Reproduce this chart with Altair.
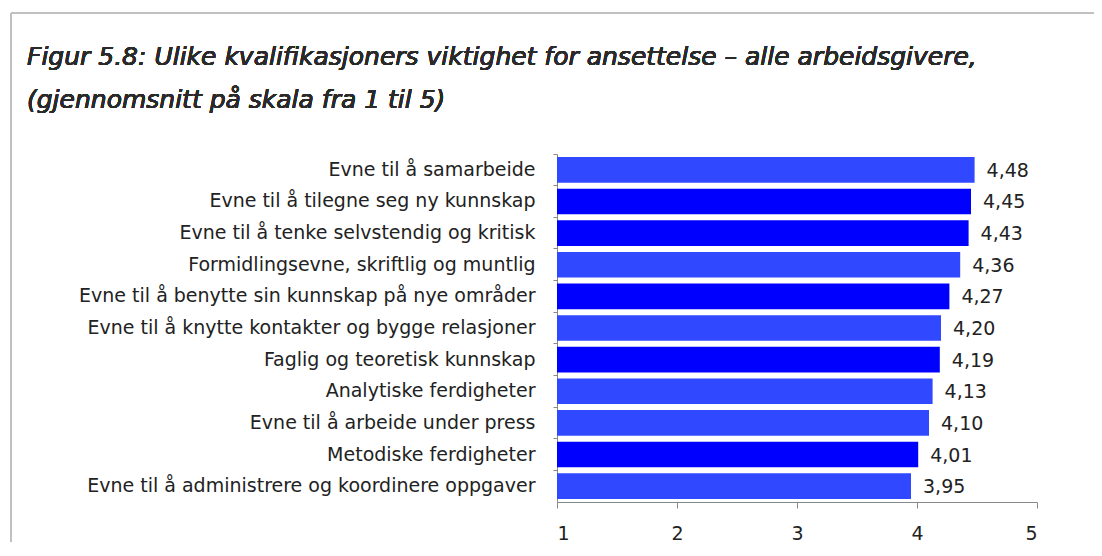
import altair as alt
import pandas as pd

categories = [
    "Evne til å samarbeide",
    "Evne til å tilegne seg ny kunnskap",
    "Evne til å tenke selvstendig og kritisk",
    "Formidlingsevne, skriftlig og muntlig",
    "Evne til å benytte sin kunnskap på nye områder",
    "Evne til å knytte kontakter og bygge relasjoner",
    "Faglig og teoretisk kunnskap",
    "Analytiske ferdigheter",
    "Evne til å arbeide under press",
    "Metodiske ferdigheter",
    "Evne til å administrere og koordinere oppgaver",
]
values = [4.48, 4.45, 4.43, 4.36, 4.27, 4.20, 4.19, 4.13, 4.10, 4.01, 3.95]
shades = ["lys", "mørk", "mørk", "lys", "mørk", "lys", "mørk", "lys", "lys", "mørk", "lys"]
x_ticks = [1, 2, 3, 4, 5]

title_line1 = "Figur 5.8: Ulike kvalifikasjoners viktighet for ansettelse – alle arbeidsgivere,"
title_line2 = "(gjennomsnitt på skala fra 1 til 5)"

df = pd.DataFrame({"kategori": categories, "verdi": values, "farge": shades})

FONT = "DejaVu Sans"
TXT = "#222222"
FS = 19

y_enc = alt.Y(
    "kategori:N",
    sort=None,
    title=None,
    scale=alt.Scale(paddingInner=0, paddingOuter=0),
    axis=alt.Axis(
        bandPosition=0,
        tickSize=4,
        labelPadding=18,
        labelFont=FONT,
        labelFontSize=FS,
        labelColor=TXT,
        domainColor="#888888",
        tickColor="#888888",
        labelLimit=600,
    ),
)

x_scale = alt.Scale(domain=[1, 5], zero=False, nice=False)

bars = alt.Chart(df).mark_bar(height={"band": 0.81}).encode(
    y=y_enc,
    x=alt.X(
        "verdi:Q",
        scale=x_scale,
        title=None,
        axis=alt.Axis(
            values=x_ticks,
            grid=False,
            tickSize=6,
            labelPadding=16,
            labelFont=FONT,
            labelFontSize=FS,
            labelColor=TXT,
            domainColor="#888888",
            tickColor="#888888",
            format="d",
        ),
    ),
    x2=alt.datum(1),
    color=alt.Color(
        "farge:N",
        scale=alt.Scale(domain=["lys", "mørk"], range=["#3048FF", "#0000FF"]),
        legend=None,
    ),
)

labels = alt.Chart(df).transform_calculate(
    tekst="replace(format(datum.verdi, '.2f'), '.', ',')"
).mark_text(align="left", baseline="middle", dx=12, dy=1, font=FONT, fontSize=FS, color=TXT).encode(
    y=alt.Y("kategori:N", sort=None),
    x=alt.X("verdi:Q", scale=x_scale),
    text="tekst:N",
)

frame_top = alt.Chart(df).mark_rule(color="#c0c0c0", strokeWidth=2, clip=False).encode(
    x=alt.value(-546), x2=alt.value(700), y=alt.value(-141)
)
frame_left = alt.Chart(df).mark_rule(color="#c0c0c0", strokeWidth=2, clip=False).encode(
    x=alt.value(-546), y=alt.value(-141), y2=alt.value(500)
)

title_style = dict(
    align="left", baseline="alphabetic", font=FONT, fontSize=25,
    fontStyle="italic", fontWeight="normal", color="#2a2a2a", clip=False,
)
title1 = alt.Chart(df).mark_text(text=title_line1, **title_style).encode(
    x=alt.value(-530), y=alt.value(-89)
)
title2 = alt.Chart(df).mark_text(text=title_line2, **title_style).encode(
    x=alt.value(-530), y=alt.value(-46)
)

chart = alt.layer(frame_top, frame_left, title1, title2, bars, labels).properties(
    width=480,
    height=348,
    autosize=alt.AutoSizeParams(type="none"),
    padding={"left": 549, "top": 146, "right": 57, "bottom": 40},
).configure_view(stroke=None)

chart.save("out.html", embed_options={"renderer": "svg", "actions": False})
